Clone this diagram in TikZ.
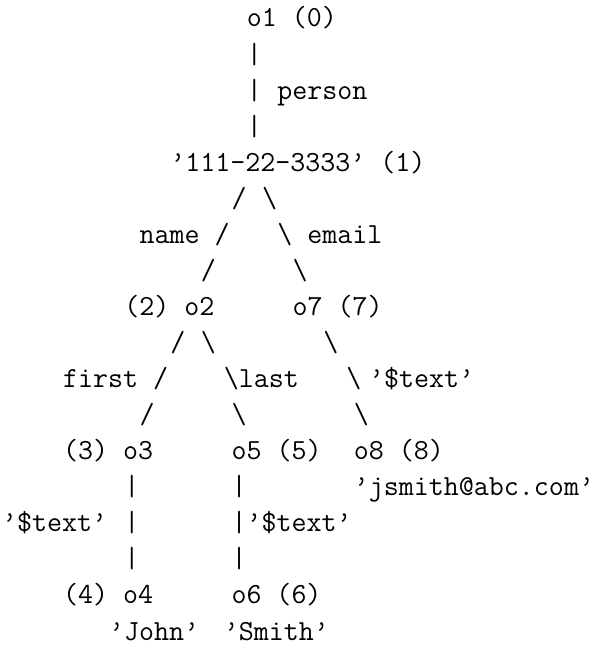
\documentclass[tikz,border=0pt]{standalone}
\begin{document}
\begin{tikzpicture}[x=1pt,y=1pt,
  lbl/.style={anchor=base west, inner sep=0pt, outer sep=0pt,
    font=\fontsize{29.14}{36}\selectfont\ttfamily}]
\fill[white] (0,0) rectangle (598,646);
\useasboundingbox (0,0) rectangle (598,646);
\newcommand\tx[4]{\node[lbl] (#1) at ({2+#2*15.3}, {619-#3*36.06}) {#4};}
% row 0-4
\tx{o1}{16}{0}{o1 (0)}
\tx{ra}{16}{1}{|}
\tx{rb}{16}{2}{|}
\tx{person}{18}{2}{person}
\tx{rc}{16}{3}{|}
\tx{n1}{11}{4}{’111-22-3333’ (1)}
% row 5-8
\tx{s5a}{15}{5}{/}
\tx{s5b}{17}{5}{\textbackslash}
\tx{name}{9}{6}{name /}
\tx{email}{18}{6}{\textbackslash{} email}
\tx{s7a}{13}{7}{/}
\tx{s7b}{19}{7}{\textbackslash}
\tx{o2}{8}{8}{(2) o2}
\tx{o7}{19}{8}{o7 (7)}
% row 9-12
\tx{s9a}{11}{9}{/}
\tx{s9b}{13}{9}{\textbackslash}
\tx{s9c}{21}{9}{\textbackslash}
\tx{first}{4}{10}{first /}
\tx{last}{14.5}{10}{\textbackslash last}
\tx{t78}{22.5}{10}{\textbackslash}
\tx{t78l}{24}{10}{’\$text’}
\tx{s11a}{9}{11}{/}
\tx{s11b}{15}{11}{\textbackslash}
\tx{s11c}{23}{11}{\textbackslash}
\tx{o3}{4}{12}{(3) o3}
\tx{o5}{15}{12}{o5 (5)}
\tx{o8}{23}{12}{o8 (8)}
% row 13-17
\tx{v13a}{8}{13}{|}
\tx{v13b}{15}{13}{|}
\tx{jsmith}{23}{13}{’jsmith@abc.com’}
\tx{t34}{0}{14}{’\$text’}
\tx{v14a}{8}{14}{|}
\tx{t56}{15}{14}{|’\$text’}
\tx{v15a}{8}{15}{|}
\tx{v15b}{15}{15}{|}
\tx{o4}{4}{16}{(4) o4}
\tx{o6}{15}{16}{o6 (6)}
\tx{john}{7}{17}{’John’}
\tx{smith}{14.5}{17}{’Smith’}
\end{tikzpicture}
\end{document}
